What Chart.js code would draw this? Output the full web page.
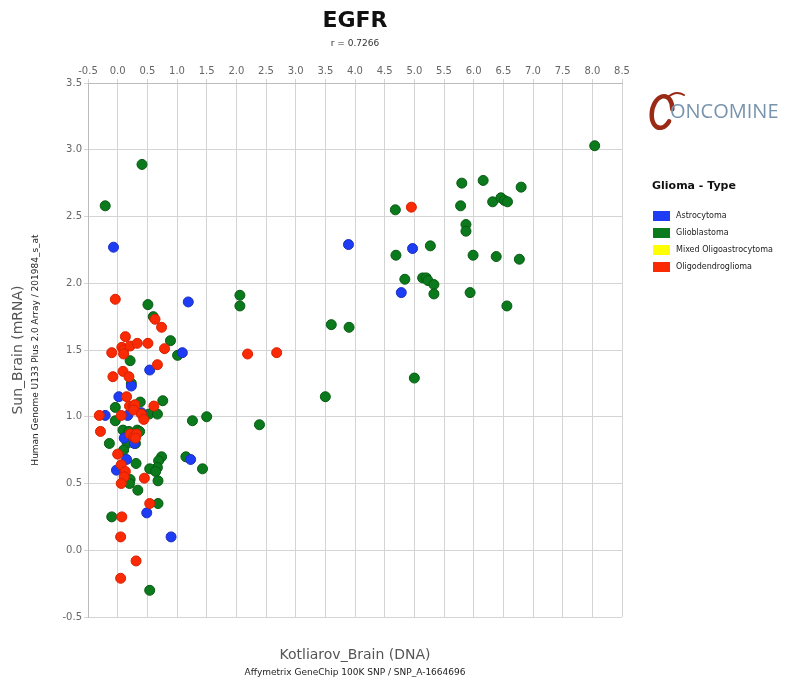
<!DOCTYPE html>
<html><head><meta charset="utf-8">
<script src="https://cdn.jsdelivr.net/npm/chart.js@4"></script>
<style>html,body{margin:0;padding:0;background:#fff;}#wrap{width:807px;height:680px;position:relative}</style>
</head><body><div id="wrap"><canvas id="c" width="807" height="680"></canvas></div>
<script>
const chartTitle = "EGFR";
const chartSubtitle = "r = 0.7266";
const xTitle = "Kotliarov_Brain (DNA)";
const xSubTitle = "Affymetrix GeneChip 100K SNP / SNP_A-1664696";
const yTitle = "Sun_Brain (mRNA)";
const ySubTitle = "Human Genome U133 Plus 2.0 Array / 201984_s_at";
const legendTitle = "Glioma - Type";
const logoText = "ONCOMINE";
const typeNames = ["Astrocytoma", "Glioblastoma", "Mixed Oligoastrocytoma", "Oligodendroglioma"];
const typeColors = ["#1f3cf5", "#0b7a1c", "#ffff00", "#fa2a05"];
const typeBorders = ["#1a2fc0", "#075a13", "#cccc00", "#d82000"];
const xTicks = [-0.5,0,0.5,1,1.5,2,2.5,3,3.5,4,4.5,5,5.5,6,6.5,7,7.5,8,8.5];
const yTicks = [-0.5,0,0.5,1,1.5,2,2.5,3,3.5];

const astroX = [1.19,1.09,0.54,0.23,0.02,-0.21,0.17,0.40,0.11,0.28,0.15,-0.02,1.23,0.49,0.90,-0.07,3.89,4.97,4.78];
const astroY = [1.86,1.48,1.35,1.23,1.15,1.01,1.01,1.03,0.84,0.80,0.68,0.60,0.68,0.28,0.10,2.27,2.29,2.26,1.93];

const glioX = [0.51,0.60,0.89,1.01,0.21,0.23,-0.04,-0.04,0.38,0.53,0.67,0.76,1.26,1.50,0.09,0.19,0.33,0.37,-0.14,0.16,0.30,0.10,0.31,0.74,0.69,0.67,0.54,0.64,1.15,1.43,0.21,0.20,0.68,0.34,0.68,-0.10,0.54,-0.21,0.41,
  2.06,2.06,3.60,3.90,3.50,2.39,
  8.04,5.80,6.16,6.80,6.32,6.46,6.52,6.57,5.78,4.68,5.87,5.87,5.27,4.69,5.99,6.38,6.77,4.84,5.14,5.20,5.23,5.33,5.33,5.94,6.56,5.00];
const glioY = [1.84,1.75,1.57,1.46,1.42,1.25,1.07,0.97,1.11,1.02,1.02,1.12,0.97,1.00,0.90,0.89,0.90,0.89,0.80,0.80,0.80,0.75,0.65,0.70,0.67,0.62,0.61,0.59,0.70,0.61,0.53,0.50,0.52,0.45,0.35,0.25,-0.30,2.58,2.89,
  1.91,1.83,1.69,1.67,1.15,0.94,
  3.03,2.75,2.77,2.72,2.61,2.64,2.62,2.61,2.58,2.55,2.44,2.39,2.28,2.21,2.21,2.20,2.18,2.03,2.04,2.04,2.02,1.99,1.92,1.93,1.83,1.29];

const mixedX = [];
const mixedY = [];

const oligoX = [-0.04,0.63,0.74,0.13,-0.10,0.07,0.10,0.10,0.21,0.33,0.51,0.79,0.67,-0.08,0.09,0.19,0.15,0.20,0.26,0.29,0.27,0.06,-0.31,0.40,0.44,0.61,-0.29,0.21,0.27,0.32,0.30,0.00,0.06,0.13,0.11,0.06,0.45,0.54,0.07,0.05,0.31,0.05,2.19,2.68,4.95];
const oligoY = [1.88,1.73,1.67,1.60,1.48,1.52,1.50,1.47,1.53,1.55,1.55,1.51,1.39,1.30,1.34,1.30,1.15,1.08,1.08,1.09,1.05,1.01,1.01,1.02,0.98,1.08,0.89,0.87,0.85,0.87,0.84,0.72,0.64,0.59,0.55,0.50,0.54,0.35,0.25,0.10,-0.08,-0.21,1.47,1.48,2.57];

function pts(xs, ys){ return xs.map((x,i)=>({x:x, y:ys[i]})); }
const seriesX = [astroX, glioX, mixedX, oligoX];
const seriesY = [astroY, glioY, mixedY, oligoY];
const drawOrder = [2, 3, 1, 0];

const FONT = "'DejaVu Sans', Verdana, sans-serif";

const decor = {
  id: 'decor',
  afterDraw(chart){
    const ctx = chart.ctx;
    const ca = chart.chartArea;
    const cx = (ca.left + ca.right) / 2;
    const cy = (ca.top + ca.bottom) / 2;
    ctx.save();
    ctx.textAlign = 'center';
    ctx.textBaseline = 'middle';
    ctx.fillStyle = '#111';
    ctx.font = "bold 22px " + FONT;
    ctx.fillText(chartTitle, cx, 21);
    ctx.font = "9px " + FONT;
    ctx.fillStyle = '#333';
    ctx.fillText(chartSubtitle, cx, 44);
    // x titles
    ctx.fillStyle = '#555';
    ctx.font = "14px " + FONT;
    ctx.fillText(xTitle, cx, 655);
    ctx.fillStyle = '#222';
    ctx.font = "9px " + FONT;
    ctx.fillText(xSubTitle, cx, 673);
    // y titles
    ctx.save();
    ctx.translate(18, cy);
    ctx.rotate(-Math.PI/2);
    ctx.fillStyle = '#555';
    ctx.font = "14px " + FONT;
    ctx.fillText(yTitle, 0, 0);
    ctx.restore();
    ctx.save();
    ctx.translate(36, cy);
    ctx.rotate(-Math.PI/2);
    ctx.fillStyle = '#222';
    ctx.font = "9px " + FONT;
    ctx.fillText(ySubTitle, 0, 0);
    ctx.restore();
    // logo
    ctx.save();
    ctx.strokeStyle = '#9a2a16';
    ctx.lineCap = 'round';
    ctx.lineWidth = 4.5;
    ctx.beginPath();
    ctx.ellipse(662, 112, 10, 16, 0.2, 0.5, Math.PI*2 - 0.3);
    ctx.stroke();
    ctx.lineWidth = 2;
    ctx.beginPath();
    ctx.moveTo(668, 97);
    ctx.quadraticCurveTo(676, 90, 684, 95);
    ctx.stroke();
    ctx.restore();
    ctx.textAlign = 'left';
    ctx.fillStyle = '#7894ad';
    ctx.font = "20px 'Open Sans', " + FONT;
    ctx.fillText(logoText, 670, 112);
    // legend
    ctx.fillStyle = '#111';
    ctx.font = "bold 11px " + FONT;
    ctx.fillText(legendTitle, 652, 186);
    ctx.font = "8px " + FONT;
    for (let i = 0; i < typeNames.length; i++) {
      const y = 216 + i * 17;
      ctx.fillStyle = typeColors[i];
      ctx.fillRect(653, y - 5, 17, 10);
      ctx.fillStyle = '#222';
      ctx.fillText(typeNames[i], 676, y);
    }
    ctx.restore();
  }
};

new Chart(document.getElementById('c'), {
  type: 'scatter',
  data: {
    datasets: typeNames.map((name, i) => ({
      label: name,
      data: pts(seriesX[i], seriesY[i]),
      backgroundColor: typeColors[i],
      borderColor: typeBorders[i],
      borderWidth: 1,
      pointRadius: 5,
      order: drawOrder[i]
    }))
  },
  options: {
    responsive: false,
    animation: false,
    devicePixelRatio: 1,
    layout: { padding: { left: 58, top: 63, right: 185, bottom: 63 } },
    plugins: { legend: { display: false }, tooltip: { enabled: false }, title: { display: false } },
    scales: {
      x: {
        type: 'linear',
        position: 'top',
        min: -0.5, max: 8.5,
        afterBuildTicks(scale){ scale.ticks = xTicks.map(v => ({value: v})); },
        afterFit(scale){ scale.height = 20; },
        ticks: { font: { family: FONT, size: 10 }, color: '#666', padding: 2, maxRotation: 0, autoSkip: false,
          callback: v => Number(v).toFixed(1) },
        grid: { color: '#d4d4d4', tickLength: 4, lineWidth: 1 },
        border: { color: '#bbbbbb' }
      },
      y: {
        type: 'linear',
        min: -0.5, max: 3.5,
        afterBuildTicks(scale){ scale.ticks = yTicks.map(v => ({value: v})); },
        afterFit(scale){ scale.width = 30; },
        ticks: { font: { family: FONT, size: 10 }, color: '#666', padding: 2, autoSkip: false,
          callback: v => Number(v).toFixed(1) },
        grid: { color: '#d4d4d4', tickLength: 4, lineWidth: 1 },
        border: { color: '#bbbbbb' }
      }
    }
  },
  plugins: [decor]
});
</script>
</body></html>
